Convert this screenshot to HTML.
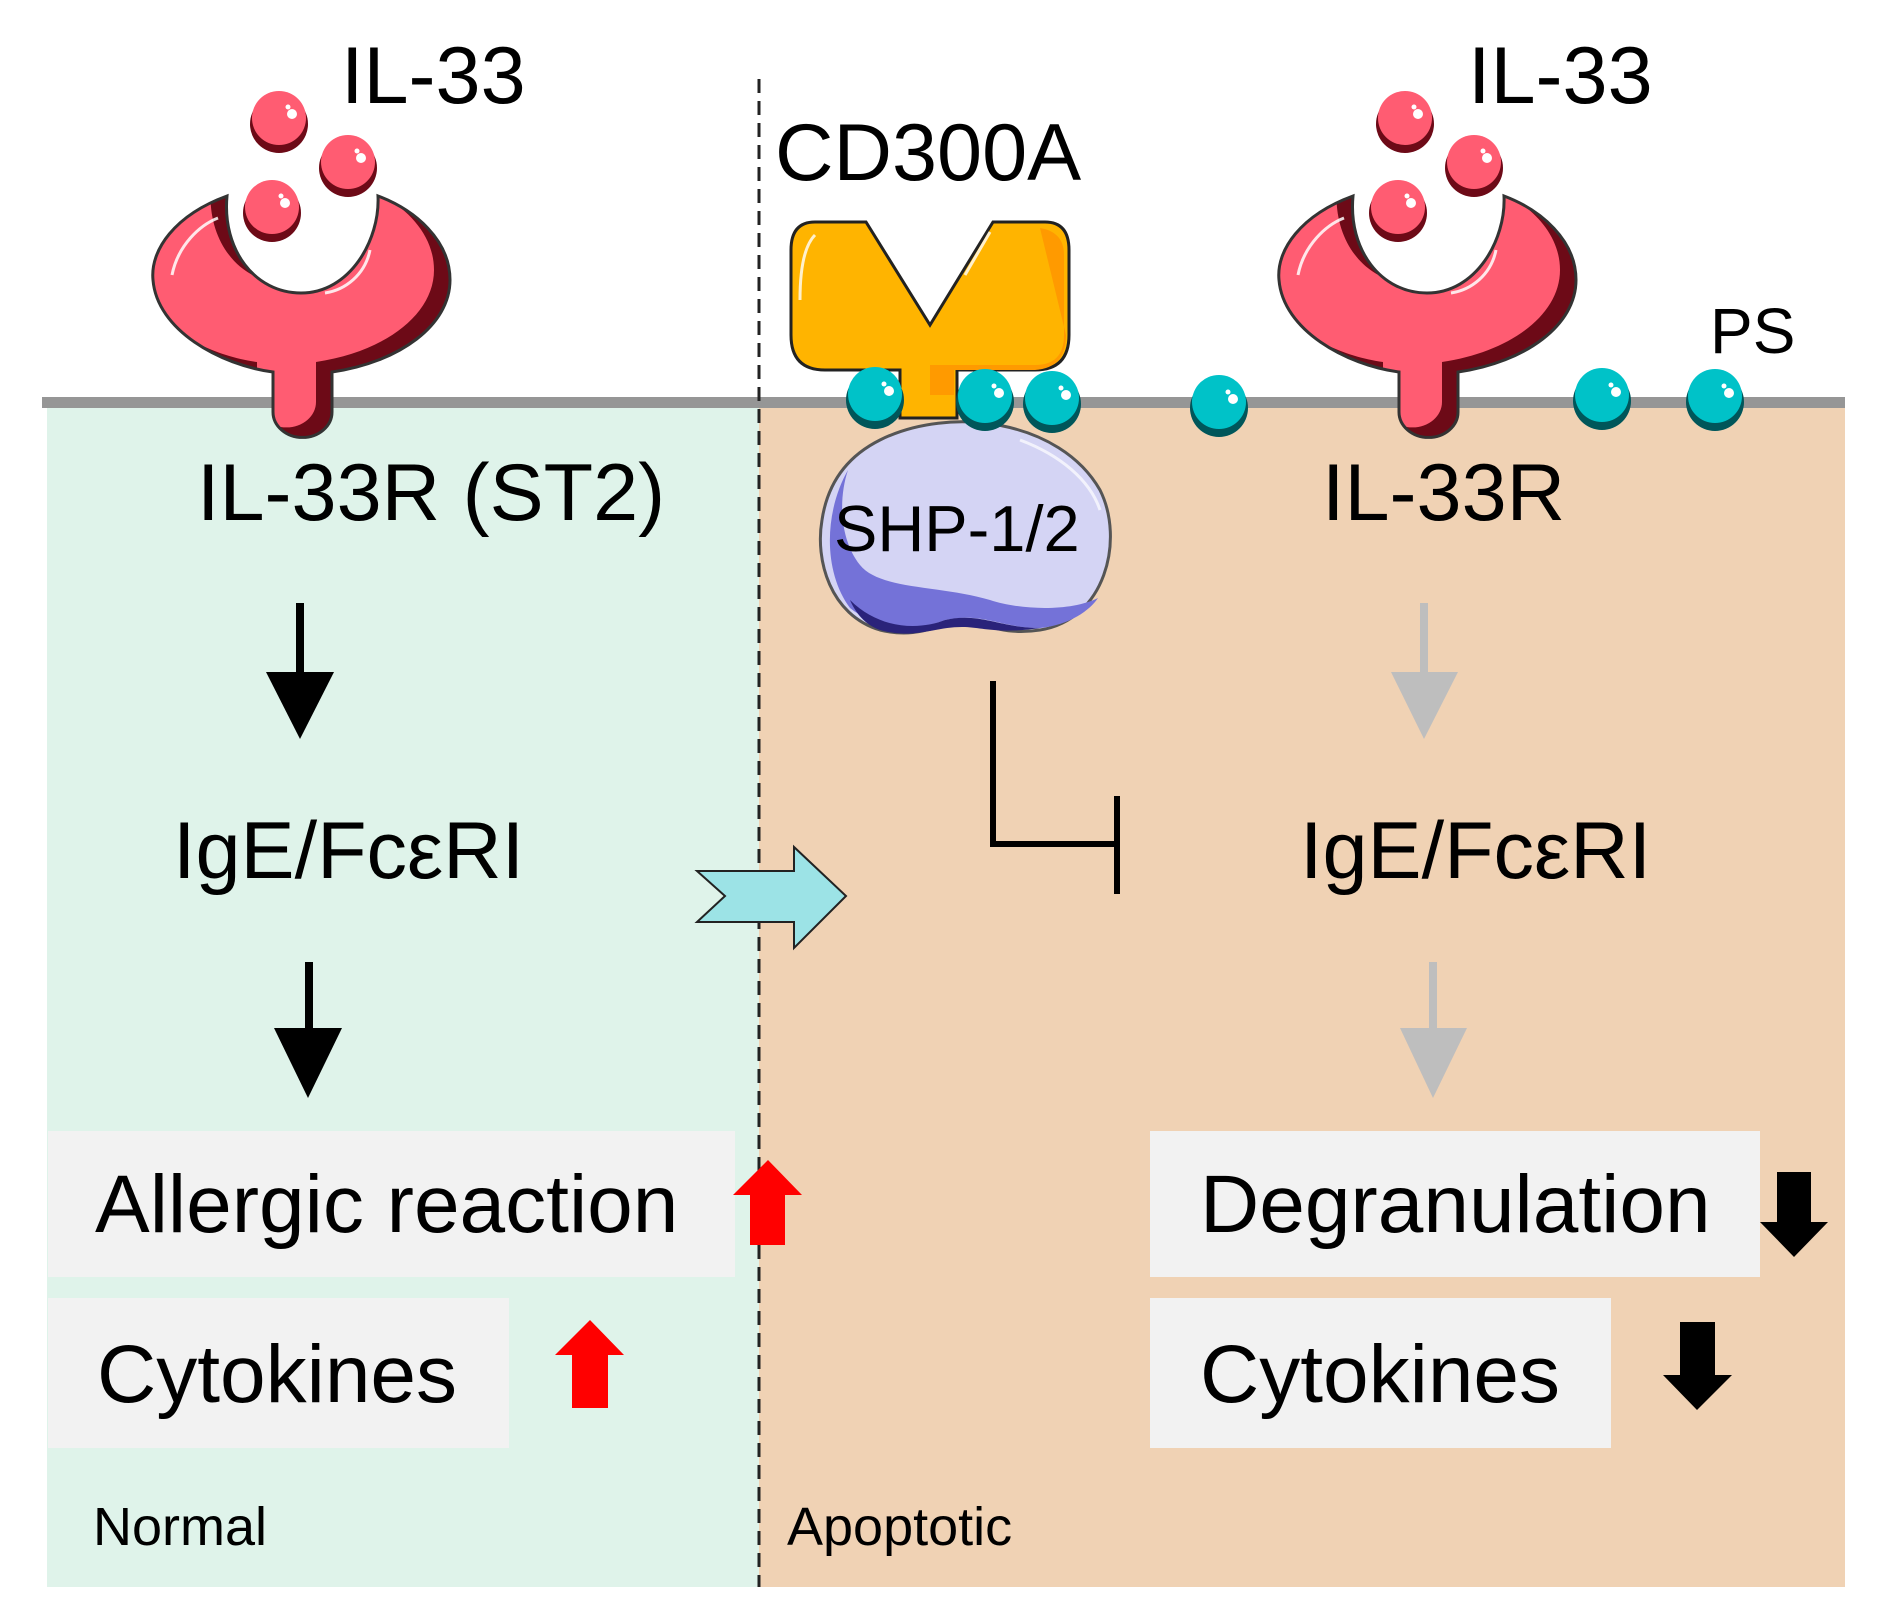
<!DOCTYPE html>
<html><head><meta charset="utf-8"><style>
html,body{margin:0;padding:0;background:#fff;}
svg{display:block;}
text{font-family:"Liberation Sans",Arial,sans-serif;fill:#000;}
</style></head><body>
<svg width="1890" height="1615" viewBox="0 0 1890 1615" xmlns="http://www.w3.org/2000/svg">
<defs>
  <path id="rec" d="M227,196 C175,215 150,250 153,280 C157,330 220,365 273,372 L273,412 A29,25 0 0 0 332,412 L332,372 C400,362 450,325 450,280 C450,240 415,210 378,196 C380,240 350,293 301,293 C255,293 222,250 227,196 Z"/>
  <clipPath id="recclip"><use href="#rec"/></clipPath>
  <g id="receptor">
    <use href="#rec" fill="#6d0a17"/>
    <g clip-path="url(#recclip)"><use href="#rec" fill="#ff5c72" transform="translate(-16,-10)"/></g>
    <use href="#rec" fill="none" stroke="#333" stroke-width="3"/>
    <path d="M172,275 C178,245 200,225 218,218" stroke="#fff" stroke-width="3" fill="none" opacity="0.85"/>
    <path d="M370,250 C365,275 345,290 325,293" stroke="#fff" stroke-width="3" fill="none" opacity="0.85"/>
  </g>
  <g id="ball">
    <circle cx="0" cy="0" r="29" fill="#6d0a17"/>
    <circle cx="0" cy="-6" r="27" fill="#ff5c72"/>
    <circle cx="13" cy="-10" r="5" fill="#fff"/>
    <circle cx="9" cy="-17" r="2.5" fill="#fff"/>
  </g>
  <g id="ps">
    <circle cx="0" cy="0" r="29" fill="#00565a"/>
    <circle cx="0" cy="-6" r="27" fill="#00c2c8"/>
    <circle cx="14" cy="-9" r="5" fill="#fff"/>
    <circle cx="9" cy="-16" r="2.5" fill="#fff"/>
  </g>
</defs>

<rect x="47" y="404" width="712" height="1183" fill="#dff3ea"/>
<rect x="759" y="404" width="1086" height="1183" fill="#f0d2b4"/>
<rect x="42" y="397" width="1803" height="11" fill="#969696"/>

<line x1="759" y1="79" x2="759" y2="1587" stroke="#222" stroke-width="3" stroke-dasharray="14,8"/>

<use href="#receptor"/>
<use href="#ball" x="279" y="124"/>
<use href="#ball" x="348" y="168"/>
<use href="#ball" x="272" y="213"/>
<use href="#receptor" x="1126"/>
<use href="#ball" x="1405" y="124"/>
<use href="#ball" x="1474" y="168"/>
<use href="#ball" x="1398" y="213"/>

<path d="M880,440 C950,405 1060,420 1100,490 C1125,540 1105,620 1040,630 C1000,636 985,622 965,622 C940,622 920,640 880,630 C830,615 815,560 822,520 C828,480 850,455 880,440 Z" fill="#d4d4f4" stroke="#555" stroke-width="3"/>
<path d="M848,470 C825,510 822,570 850,608 C880,632 920,630 945,620 C985,612 1000,628 1040,628 C1070,625 1090,610 1098,598 C1070,612 1020,610 990,600 C940,585 880,590 860,565 C840,540 838,500 848,470 Z" fill="#7472d8"/>
<path d="M850,600 C880,630 920,630 945,620 C980,612 1000,628 1040,628 C1000,634 985,628 965,627 C935,626 915,640 880,630 C865,625 855,612 850,600 Z" fill="#2a237a"/>
<path d="M1020,440 C1060,455 1090,480 1100,510" stroke="#fff" stroke-width="3" fill="none" opacity="0.7"/>

<path d="M815,222 L866,222 L930,325 L993,222 L1045,222 Q1069,222 1069,250 L1069,335 Q1069,370 1035,370 L957,370 L957,418 L900,418 L900,370 L825,370 Q791,370 791,335 L791,250 Q791,222 815,222 Z" fill="#ffb400" stroke="#222" stroke-width="3"/>
<path d="M1040,228 Q1064,232 1064,255 L1064,335 Q1064,365 1035,365 L930,365 L930,395 L954,395 L954,370 L1035,370 Q1066,368 1066,335 Z" fill="#ff9a00"/>
<path d="M815,235 Q800,250 800,300" stroke="#fff" stroke-width="3" fill="none" opacity="0.8"/>
<path d="M990,232 L965,275" stroke="#fff" stroke-width="3" fill="none" opacity="0.8"/>

<use href="#ps" x="875" y="400"/>
<use href="#ps" x="985" y="402"/>
<use href="#ps" x="1052" y="404"/>
<use href="#ps" x="1219" y="408"/>
<use href="#ps" x="1602" y="401"/>
<use href="#ps" x="1715" y="402"/>

<text x="341" y="103" font-size="81">IL-33</text>
<text x="1468" y="103" font-size="81">IL-33</text>
<text x="775" y="180" font-size="81">CD300A</text>
<text x="1710" y="353" font-size="64">PS</text>
<text x="197" y="520" font-size="81">IL-33R (ST2)</text>
<text x="1322" y="520" font-size="81">IL-33R</text>
<text x="834" y="551" font-size="65">SHP-1/2</text>
<text x="173" y="878" font-size="81">IgE/FcεRI</text>
<text x="1300" y="878" font-size="81">IgE/FcεRI</text>

<rect x="296" y="603" width="8" height="72" fill="#000"/>
<polygon points="266,672 334,672 300,739" fill="#000"/>
<rect x="305" y="962" width="8" height="68" fill="#000"/>
<polygon points="274,1028 342,1028 308,1098" fill="#000"/>
<rect x="1420" y="603" width="8" height="72" fill="#bebebe"/>
<polygon points="1391,672 1458,672 1424,739" fill="#bebebe"/>
<rect x="1429" y="962" width="8" height="68" fill="#bebebe"/>
<polygon points="1400,1028 1467,1028 1433,1098" fill="#bebebe"/>

<polyline points="993,681 993,844 1117,844" fill="none" stroke="#000" stroke-width="6"/>
<line x1="1117" y1="796" x2="1117" y2="894" stroke="#000" stroke-width="6"/>

<polygon points="697,871 794,871 794,847 846,896 794,948 794,922 697,922 725,896" fill="#9ce3e6" stroke="#222" stroke-width="2"/>

<rect x="48" y="1131" width="687" height="146" fill="#f2f2f2"/>
<rect x="48" y="1298" width="461" height="150" fill="#f2f2f2"/>
<rect x="1150" y="1131" width="610" height="146" fill="#f2f2f2"/>
<rect x="1150" y="1298" width="461" height="150" fill="#f2f2f2"/>
<text x="95" y="1232" font-size="82">Allergic reaction</text>
<text x="97" y="1402" font-size="82">Cytokines</text>
<text x="1200" y="1232" font-size="82">Degranulation</text>
<text x="1200" y="1402" font-size="82">Cytokines</text>

<polygon points="768,1160 802,1195 785,1195 785,1245 750,1245 750,1195 733,1195" fill="#ff0000"/>
<polygon points="590,1320 624,1355 608,1355 608,1408 572,1408 572,1355 555,1355" fill="#ff0000"/>
<polygon points="1777,1172 1811,1172 1811,1222 1828,1222 1794,1257 1760,1222 1777,1222" fill="#000"/>
<polygon points="1680,1322 1715,1322 1715,1375 1732,1375 1697,1410 1663,1375 1680,1375" fill="#000"/>

<text x="93" y="1545" font-size="54">Normal</text>
<text x="787" y="1545" font-size="54">Apoptotic</text>
</svg>
</body></html>
